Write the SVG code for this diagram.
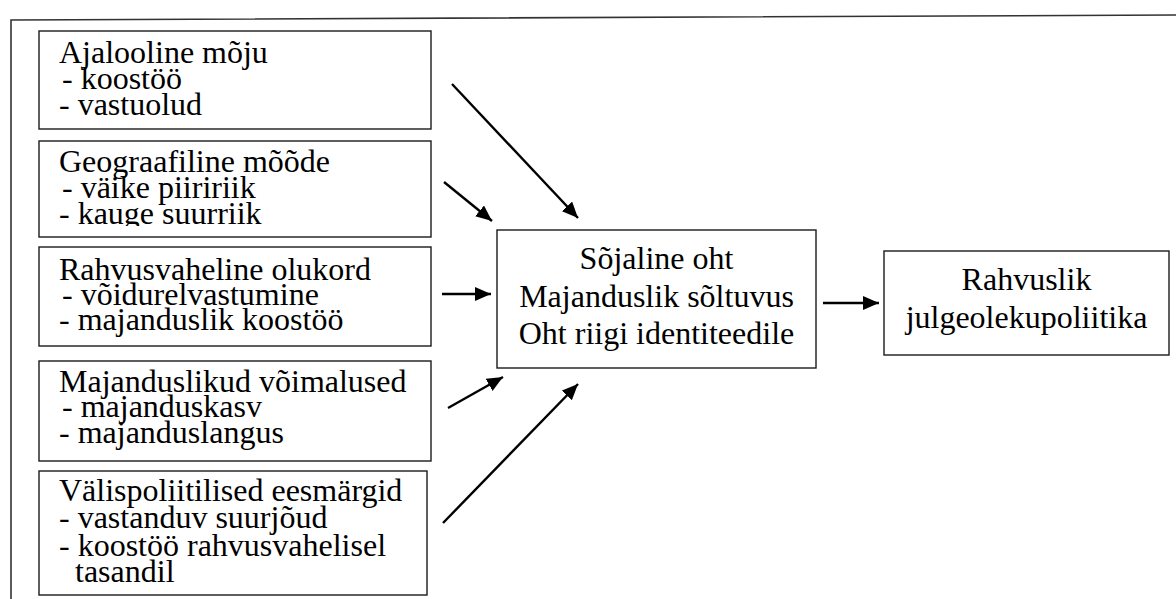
<svg xmlns="http://www.w3.org/2000/svg" width="1176" height="599" viewBox="0 0 1176 599">
<style>
.box{fill:#fff;stroke:#1a1a1a;stroke-width:1.4}
.arr{stroke:#000;stroke-width:2.4;fill:none;marker-end:url(#ah)}
text{font-family:'Liberation Serif','Times New Roman',serif;font-size:32px;fill:#000}
.c{text-anchor:middle}
</style>
<defs>
<marker id="ah" markerUnits="userSpaceOnUse" markerWidth="17" markerHeight="15" refX="16" refY="7" orient="auto">
<path d="M0,0 L16,7 L0,14 z" fill="#000"/>
</marker>
<clipPath id="clip2"><rect x="39" y="141" width="392" height="85"/></clipPath>
</defs>
<path d="M11,599 L11,20 L1176,15" fill="none" stroke="#333" stroke-width="1.6"/>
<g id="n1">
<rect class="box" x="39" y="31" width="392" height="98"/>
<text x="59" y="63">Ajalooline mõju</text>
<text x="62" y="89">- koostöö</text>
<text x="59" y="115">- vastuolud</text>
</g>
<g id="n2">
<rect class="box" x="39" y="141" width="392" height="96"/>
<g clip-path="url(#clip2)">
<text x="59" y="172">Geograafiline mõõde</text>
<text x="62" y="198">- väike piiririik</text>
<text x="59" y="224">- kauge suurriik</text>
</g>
</g>
<g id="n3">
<rect class="box" x="39" y="247" width="392" height="99"/>
<text x="59" y="280">Rahvusvaheline olukord</text>
<text x="62" y="305">- võidurelvastumine</text>
<text x="59" y="330">- majanduslik koostöö</text>
</g>
<g id="n4">
<rect class="box" x="39" y="361" width="392" height="100"/>
<text x="59" y="392">Majanduslikud võimalused</text>
<text x="62" y="417">- majanduskasv</text>
<text x="59" y="443">- majanduslangus</text>
</g>
<g id="n5">
<rect class="box" x="39" y="471" width="388" height="124"/>
<text x="59" y="501">Välispoliitilised eesmärgid</text>
<text x="59" y="528">- vastanduv suurjõud</text>
<text x="59" y="556">- koostöö rahvusvahelisel</text>
<text x="75" y="582">tasandil</text>
</g>
<g id="center">
<rect class="box" x="497" y="230" width="319" height="138"/>
<text class="c" x="656.5" y="269">Sõjaline oht</text>
<text class="c" x="656.5" y="307">Majanduslik sõltuvus</text>
<text class="c" x="656.5" y="344">Oht riigi identiteedile</text>
</g>
<g id="result">
<rect class="box" x="884" y="251" width="285" height="104"/>
<text class="c" x="1026.5" y="290">Rahvuslik</text>
<text class="c" x="1026.5" y="328">julgeolekupoliitika</text>
</g>
<g id="connectors">
<line class="arr" x1="452" y1="84" x2="578" y2="218"/>
<line class="arr" x1="444" y1="182" x2="492" y2="221"/>
<line class="arr" x1="442" y1="294" x2="491" y2="294"/>
<line class="arr" x1="448" y1="408" x2="503" y2="377"/>
<line class="arr" x1="443" y1="523" x2="578" y2="384"/>
<line class="arr" x1="823" y1="303" x2="879" y2="303"/>
</g>
</svg>
